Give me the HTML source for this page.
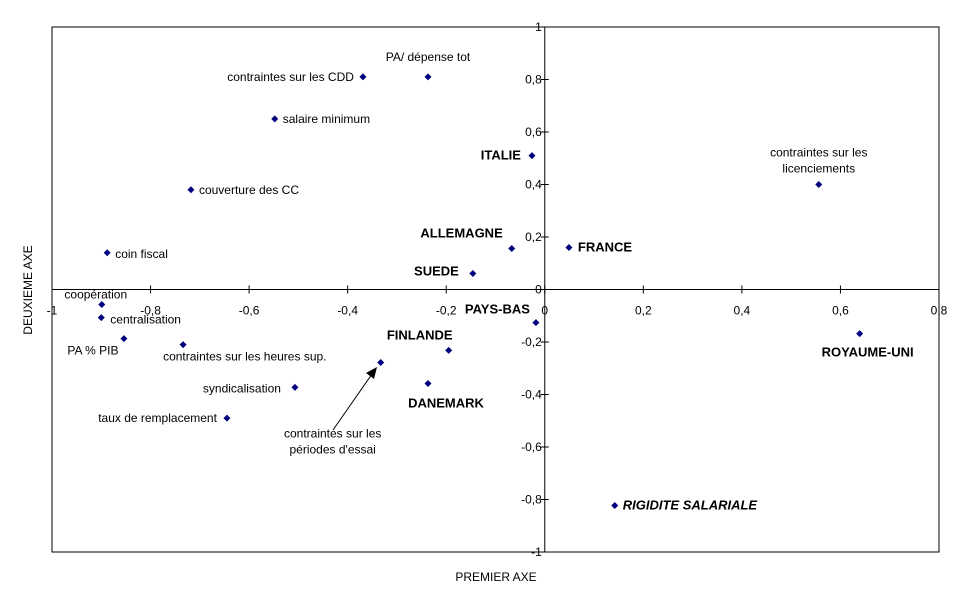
<!DOCTYPE html>
<html><head><meta charset="utf-8"><style>
body{margin:0;background:#fff;}
svg{display:block;font-family:"Liberation Sans",Arial,sans-serif;font-size:12px;}
</style></head><body>
<svg id="chart" width="969" height="603">
<rect x="52" y="27" width="887" height="525" fill="#fff" stroke="#000" stroke-width="1"/>
<g id="axes"></g>
<g id="pts"></g>
<line x1="333" y1="430" x2="372" y2="374" stroke="#000" stroke-width="1"/>
<polygon points="377,367 366,373 374,379" fill="#000"/>
<text x="496" y="581" text-anchor="middle" fill="#000">PREMIER AXE</text>
<text transform="translate(32,290) rotate(-90)" text-anchor="middle" fill="#000">DEUXIEME AXE</text>
</svg>
<script>
const names=["PA/ dépense tot","contraintes sur les CDD","salaire minimum","ITALIE","couverture des CC","coin fiscal","ALLEMAGNE","SUEDE","FRANCE","contraintes sur les|licenciements","coopération","centralisation","PA % PIB","contraintes sur les heures sup.","syndicalisation","taux de remplacement","contraintes sur les|périodes d'essai","FINLANDE","DANEMARK","PAYS-BAS","ROYAUME-UNI","RIGIDITE SALARIALE"];
const xVals=[-0.237,-0.369,-0.548,-0.026,-0.718,-0.888,-0.067,-0.146,0.049,0.556,-0.899,-0.900,-0.854,-0.734,-0.507,-0.645,-0.333,-0.195,-0.237,-0.018,0.639,0.142];
const yVals=[0.81,0.81,0.65,0.51,0.38,0.14,0.156,0.061,0.16,0.40,-0.057,-0.107,-0.187,-0.21,-0.373,-0.49,-0.278,-0.232,-0.358,-0.126,-0.168,-0.823];
const xTicks=[-1,-0.8,-0.6,-0.4,-0.2,0,0.2,0.4,0.6,0.8];
const yTicks=[1,0.8,0.6,0.4,0.2,0,-0.2,-0.4,-0.6,-0.8,-1];
const xTickLabels=["-1","-0,8","-0,6","-0,4","-0,2","0","0,2","0,4","0,6","0,8"];
const yTickLabels=["1","0,8","0,6","0,4","0,2","0","-0,2","-0,4","-0,6","-0,8","-1"];
// label placement (style): dx, dy, anchor, weight/style
const lblStyle=[[0,-16,"middle","n"],[-9,4,"end","n"],[8,4,"start","n"],[-11,4,"end","b"],[8,4,"start","n"],[8,5,"start","n"],[-9,-11,"end","b"],[-14,2,"end","b"],[9,4,"start","b"],[0,-28,"middle","n"],[-6,-6,"middle","n"],[9,6,"start","n"],[-31,16,"middle","n"],[0,16,"start","n2"],[-14,5,"end","n"],[-10,4,"end","n"],[-48,75,"middle","n"],[-29,-11,"middle","b"],[18,24,"middle","b"],[-6,-9,"end","b"],[8,23,"middle","b"],[8,4,"start","bi"]];
const NS="http://www.w3.org/2000/svg";
const X0=52,X1=939,Y0=27,Y1=552;
function sx(v){return X0+(v-(-1))/(0.8-(-1))*(X1-X0);}
function sy(v){return Y1-(v-(-1))/2*(Y1-Y0);}
function mk(t,a){const e=document.createElementNS(NS,t);for(const k in a)e.setAttribute(k,a[k]);return e;}
const ax=document.getElementById("axes"),pg=document.getElementById("pts");
const ox=sx(0),oy=sy(0);
let l=mk("line",{x1:X0,y1:oy,x2:X1,y2:oy,stroke:"#000"});


ax.appendChild(l);
l=mk("line",{x1:ox,y1:Y0,x2:ox,y2:Y1,stroke:"#000"});


ax.appendChild(l);
xTicks.forEach((v,i)=>{
 const x=sx(v);
 const t=mk("line",{x1:x,y1:oy-4,x2:x,y2:oy+4,stroke:"#000"});
 
 
 ax.appendChild(t);
 const tx=mk("text",{x:x,y:oy+25,"text-anchor":"middle",fill:"#000"});
 tx.textContent=xTickLabels[i];
 
 
 ax.appendChild(tx);
});
yTicks.forEach((v,i)=>{
 const y=sy(v);
 const t=mk("line",{x1:ox-4,y1:y,x2:ox+4,y2:y,stroke:"#000"});
 
 
 ax.appendChild(t);
 const tx=mk("text",{x:ox-3,y:y+4,"text-anchor":"end",fill:"#000"});
 tx.textContent=yTickLabels[i];
 
 
 ax.appendChild(tx);
});
names.forEach((n,i)=>{
 const x=sx(xVals[i]),y=sy(yVals[i]);
 const d=mk("polygon",{points:`${x},${y-3.5} ${x+3.5},${y} ${x},${y+3.5} ${x-3.5},${y}`,fill:"#00007f"});
 
 
 pg.appendChild(d);
 const s=lblStyle[i];
 let lx=x+s[0],ly=y+s[1],anc=s[2];
 if(s[3]==="n2"){lx=x-20;anc="start";}
 const tx=mk("text",{x:lx,y:ly,"text-anchor":anc,fill:"#000"});
 if(s[3]==="b"||s[3]==="bi"){tx.setAttribute("font-weight","bold");tx.setAttribute("font-size","13");}
 if(s[3]==="bi")tx.setAttribute("font-style","italic");
 const parts=n.split("|");
 parts.forEach((p,j)=>{const ts=mk("tspan",{x:lx,dy:j?16:0});ts.textContent=p;tx.appendChild(ts);});
 
 
 pg.appendChild(tx);
});
</script>
</body></html>
